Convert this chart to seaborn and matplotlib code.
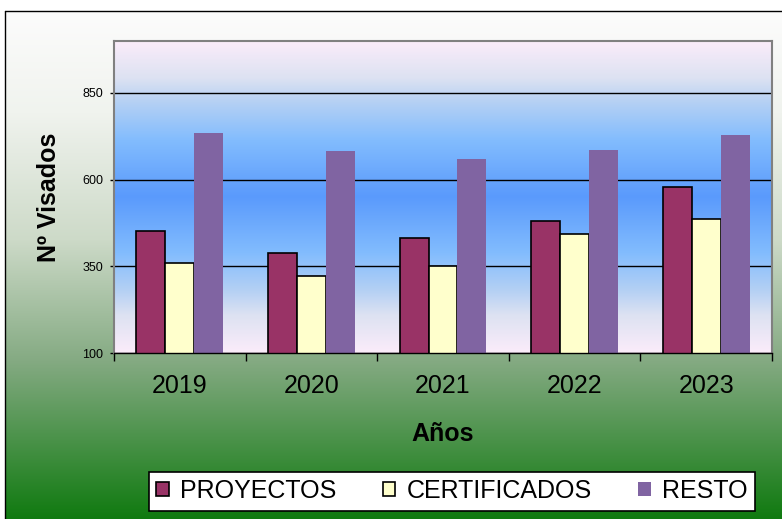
import matplotlib.pyplot as plt
import numpy as np
import pandas as pd
import seaborn as sns
from matplotlib.colors import to_rgb
from matplotlib.patches import Patch


YEARS = ["2019", "2020", "2021", "2022", "2023"]
SERIES = ["PROYECTOS", "CERTIFICADOS", "RESTO"]
PROYECTOS = [453, 389, 431, 480, 578]
CERTIFICADOS = [361, 321, 351, 443, 486]
RESTO = [735, 683, 660, 686, 729]
Y_TICKS = [100, 350, 600, 850]
Y_LIMITS = (100, 1000)
COLORS = ["#993366", "#FFFFCC", "#8064A2"]

# background gradients (position from top, colour)
PLOT_STOPS = [
    (0.0, "#fbecfa"), (0.12, "#dde2f2"), (0.2, "#b4d0f4"), (0.32, "#82bcfe"), (0.5, "#5a9afc"),
    (0.68, "#82bcfe"), (0.8, "#b4d0f4"), (0.88, "#dde2f2"), (1.0, "#fbecfa"),
]
FIG_STOPS = [
    (0.0, "#fcfcfc"), (0.2, "#f0f3ee"), (0.45, "#cddac8"), (0.69, "#84aa82"), (1.0, "#107a10"),
]

W, H = 782, 519


def vertical_gradient(stops, n):
    pos = [s[0] for s in stops]
    cols = np.array([to_rgb(s[1]) for s in stops])
    t = np.linspace(0, 1, n)
    return np.stack([np.interp(t, pos, cols[:, i]) for i in range(3)], axis=1)


sns.set_style("white")
plt.rcParams["font.family"] = ["Liberation Sans", "DejaVu Sans"]
plt.rcParams.update({
    "text.color": "black",
    "axes.labelcolor": "black",
    "xtick.color": "black",
    "ytick.color": "black",
})

df = pd.DataFrame(
    {
        "anio": YEARS * 3,
        "tipo": [s for s in SERIES for _ in YEARS],
        "visados": PROYECTOS + CERTIFICADOS + RESTO,
    }
)

fig = plt.figure(figsize=(W / 100, H / 100), dpi=100)

# figure background with black frame
bg = fig.add_axes([0, 0, 1, 1], zorder=-5)
top, left = 11, 5
col = vertical_gradient(FIG_STOPS, H - top)
img = np.ones((H, W, 3))
img[top:, :, :] = col[:, None, :]
img[:, :left, :] = 1.0
bg.imshow(img, extent=(0, W, H, 0), aspect="auto", interpolation="nearest")
bg.plot([left, W], [top, top], color="black", lw=1)
bg.plot([left, left], [top, H], color="black", lw=1)
bg.set_xlim(0, W)
bg.set_ylim(H, 0)
bg.axis("off")

ax = fig.add_axes([114 / W, (H - 353) / H, 658 / W, 312 / H])
plot_grad = vertical_gradient(PLOT_STOPS, 300)
ax.imshow(plot_grad[:, None, :], extent=(-0.5, len(YEARS) - 0.5, Y_LIMITS[0], Y_LIMITS[1]),
          aspect="auto", zorder=0, interpolation="bilinear")

sns.barplot(
    data=df, x="anio", y="visados", hue="tipo", hue_order=SERIES,
    palette=COLORS, width=0.66, saturation=1, legend=False, ax=ax, zorder=2,
)
for i, cont in enumerate(ax.containers):
    for bar in cont:
        if i < 2:
            bar.set_edgecolor("black")
            bar.set_linewidth(1.2)
        else:
            bar.set_edgecolor("none")
            bar.set_linewidth(0)

ax.set_xlim(-0.5, len(YEARS) - 0.5)
ax.set_ylim(*Y_LIMITS)
ax.set_yticks(Y_TICKS)
ax.yaxis.grid(True, color="black", lw=1)
ax.set_axisbelow(True)

ax.tick_params(axis="y", which="major", left=True, length=3, width=1, color="black",
               labelsize=9, pad=5)
ax.tick_params(axis="x", which="major", bottom=True, length=0, labelsize=18, pad=15)
ax.set_xticks(np.arange(-0.5, len(YEARS)), minor=True)
ax.tick_params(axis="x", which="minor", bottom=True, length=6, width=1, color="black")

for side in ["left", "top", "right"]:
    ax.spines[side].set_color("#808080")
    ax.spines[side].set_linewidth(1.5)
ax.spines["bottom"].set_color("black")
ax.spines["bottom"].set_linewidth(1)

ax.set_xlabel("Años", fontsize=18, fontweight="bold")
ax.set_ylabel("Nº Visados", fontsize=18, fontweight="bold")
ax.xaxis.set_label_coords(0.5, -0.222)
ax.yaxis.set_label_coords(-0.08, 0.5)

handles = [
    Patch(facecolor=COLORS[0], edgecolor="black", linewidth=1.2),
    Patch(facecolor=COLORS[1], edgecolor="black", linewidth=1.2),
    Patch(facecolor=COLORS[2], edgecolor="none"),
]
leg = fig.legend(
    handles, SERIES, loc="center", bbox_to_anchor=(452 / W, 1 - 491 / H), ncol=3,
    frameon=True, fancybox=False, framealpha=1, edgecolor="black", fontsize=18,
    handlelength=0.5, handleheight=0.5, handletextpad=0.45, columnspacing=1.85, borderpad=0.3,
)
leg.get_frame().set_linewidth(1.2)

fig.savefig("out.png", dpi=100)
